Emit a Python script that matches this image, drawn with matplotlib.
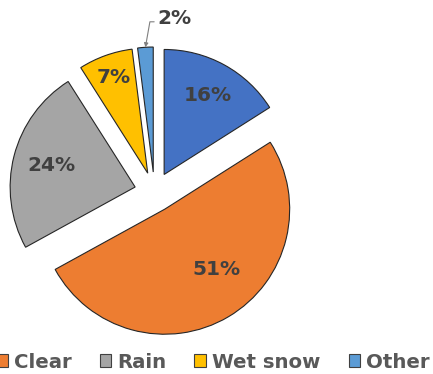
import numpy as np
import matplotlib.pyplot as plt
from matplotlib.patches import Patch

categories = ['Dry', 'Clear', 'Rain', 'Wet snow', 'Other']
shares = [16, 51, 24, 7, 2]
colors = ['#4472C4', '#ED7D31', '#A5A5A5', '#FFC000', '#5B9BD5']
legend_items = ['Clear', 'Rain', 'Wet snow', 'Other']

# label placement inside each slice: (distance from slice apex, angle shift in deg)
label_pos = [(0.72, 0), (0.64, 10), (0.69, 0), (0.81, 0), None]

W, H = 433, 374
cx, cy, R = 154.5, 192, 125.0

fig = plt.figure(figsize=(W / 100, H / 100), dpi=100)
ax = fig.add_axes([0, 0, 1, 1])

wedges, _ = ax.pie(shares, colors=colors, startangle=90, counterclock=False,
                   explode=[0.16] * len(shares),
                   wedgeprops=dict(edgecolor='#262626', linewidth=0.8))

ax.set_xlim(-cx / R, (W - cx) / R)
ax.set_ylim(-(H - cy) / R, cy / R)
ax.set_aspect('equal')
ax.axis('off')

font = 'DejaVu Sans'
for w, v, lp in zip(wedges, shares, label_pos):
    if lp is None:
        continue
    d, shift = lp
    ang = np.deg2rad((w.theta1 + w.theta2) / 2 + shift)
    x = w.center[0] + d * np.cos(ang)
    y = w.center[1] + d * np.sin(ang)
    ax.text(x, y, '%d%%' % v, ha='center', va='center', fontsize=14.5,
            fontweight='bold', color='#404040', family=font)

# small slice gets an outside label with a leader line
w = wedges[-1]
ang = np.deg2rad((w.theta1 + w.theta2) / 2)
tip = (w.center[0] + np.cos(ang), w.center[1] + np.sin(ang))
ax.annotate('%d%%' % shares[-1], xy=tip,
            xytext=((174 - cx) / R, (cy - 18) / R),
            ha='center', va='center', fontsize=14.5, fontweight='bold',
            color='#404040', family=font,
            arrowprops=dict(arrowstyle='-|>', color='#7f7f7f', lw=0.8,
                            mutation_scale=6, shrinkA=0, shrinkB=0,
                            relpos=(0.0, 0.3),
                            connectionstyle='angle,angleA=0,angleB=80,rad=0'))

handles = [Patch(facecolor=c, edgecolor='#404040', linewidth=0.8) for c in colors[1:]]
fig.legend(handles, legend_items, loc='center left',
           bbox_to_anchor=(-4 / W, 1 - 362 / H), ncol=4, frameon=False,
           borderpad=0, borderaxespad=0, handlelength=0.6, handleheight=0.6,
           handletextpad=0.3, columnspacing=1.42,
           prop=dict(family=font, weight='bold', size=14.2), labelcolor='#595959')

fig.savefig('out.png', dpi=100)
